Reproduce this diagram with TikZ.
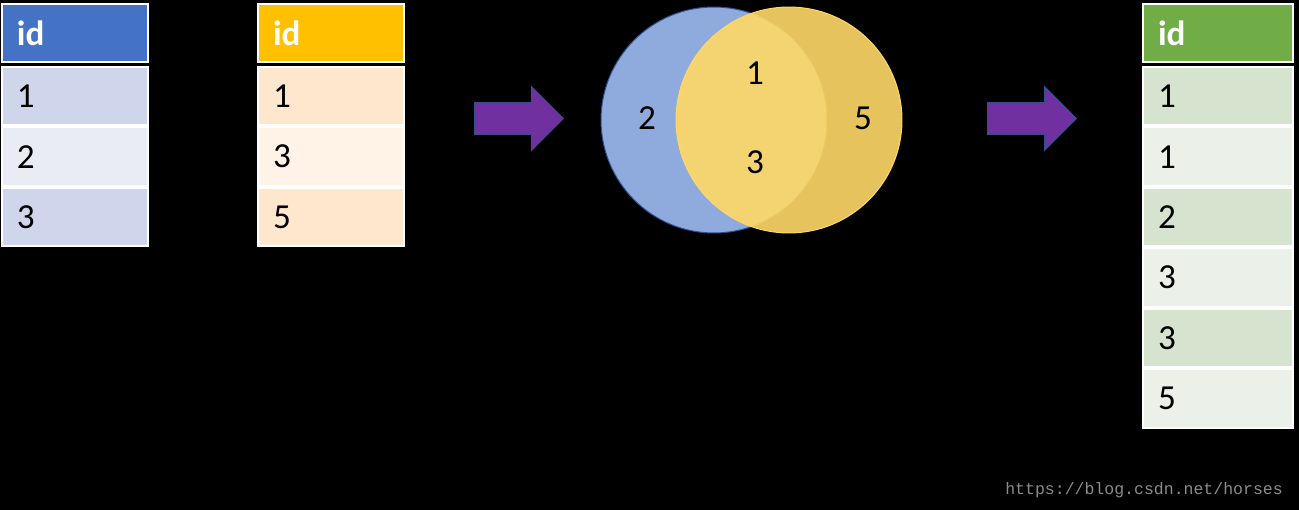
\documentclass[tikz,border=0pt]{standalone}
\usepackage{fontspec}
\setmainfont{Carlito}
\newfontfamily\urlfont{Liberation Mono}
\usepackage{xcolor}
\usepackage{tikz}
\usetikzlibrary{positioning, shapes.arrows}
\definecolor{hdblue}{HTML}{4472C4}
\definecolor{rowblueA}{HTML}{CFD5EA}
\definecolor{rowblueB}{HTML}{E9EBF5}
\definecolor{hdyellow}{HTML}{FFC000}
\definecolor{rowyellowA}{HTML}{FFE7CD}
\definecolor{rowyellowB}{HTML}{FFF3E7}
\definecolor{hdgreen}{HTML}{70AD47}
\definecolor{rowgreenA}{HTML}{D5E3CF}
\definecolor{rowgreenB}{HTML}{EBF1E9}
\definecolor{vennblue}{HTML}{8FAADC}
\definecolor{vennyellow}{HTML}{FFD966}
\definecolor{edgeblue}{HTML}{2F528F}
\definecolor{arrowpurple}{HTML}{7030A0}
\definecolor{urlgray}{HTML}{8C8C8C}
\tikzset{
    cell/.style={rectangle, draw=white, line width=0.04cm, minimum width=2.92cm, minimum height=1.17cm, text width=2.32cm, inner xsep=0.3cm, inner ysep=0pt, align=left, font=\fontsize{20}{24}\selectfont},
    head/.style={cell, minimum height=1.16cm, text=white, font=\fontsize{20}{24}\selectfont\bfseries},
    widecell/.style={minimum width=3.0cm, text width=2.4cm},
    setcircle/.style={circle, minimum size=4.52cm, inner sep=0pt, line width=0.02cm},
    setlabel/.style={font=\fontsize{20}{24}\selectfont},
    bigarrow/.style={single arrow, fill=arrowpurple, draw=edgeblue, line width=0.02cm, minimum height=1.78cm, minimum width=1.26cm, single arrow head extend=0.32cm, inner xsep=0pt, inner ysep=0.31cm},
}
\begin{document}
\begin{tikzpicture}[x=0.02cm, y=-0.02cm, node distance=0cm]
    \fill[black] (0,0) rectangle (1299,510);
    \useasboundingbox (0,0) rectangle (1299,510);
    % left table
    \node[head, fill=hdblue, anchor=north west] (a0) at (1,3) {id};
    \node[cell, fill=rowblueA, below=0.06cm of a0] (a1) {1};
    \node[cell, fill=rowblueB, below=of a1] (a2) {2};
    \node[cell, fill=rowblueA, below=of a2] (a3) {3};
    % right table
    \node[head, fill=hdyellow, anchor=north west] (b0) at (257,3) {id};
    \node[cell, fill=rowyellowA, below=0.06cm of b0] (b1) {1};
    \node[cell, fill=rowyellowB, below=of b1] (b2) {3};
    \node[cell, fill=rowyellowA, below=of b2] (b3) {5};
    \node[bigarrow] (toVenn) at (511,118.5) {};
    % venn diagram
    \node[setcircle, fill=vennblue, draw=edgeblue] (setA) at (714,120) {};
    \node[setcircle, fill=vennyellow, fill opacity=0.9, draw=vennyellow] (setB) at (789,120) {};
    \node[setlabel] (onlyA) at (647,118) {2};
    \node[setlabel] (bothTop) at (755,73) {1};
    \node[setlabel] (bothBot) at (755,162) {3};
    \node[setlabel] (onlyB) at (863,118) {5};
    \node[bigarrow] (toResult) at (1024,118.5) {};
    % result table
    \node[head, widecell, fill=hdgreen, anchor=north west] (c0) at (1142,3) {id};
    \node[cell, widecell, fill=rowgreenA, below=0.06cm of c0] (c1) {1};
    \node[cell, widecell, fill=rowgreenB, below=of c1] (c2) {1};
    \node[cell, widecell, fill=rowgreenA, below=of c2] (c3) {2};
    \node[cell, widecell, fill=rowgreenB, below=of c3] (c4) {3};
    \node[cell, widecell, fill=rowgreenA, below=of c4] (c5) {3};
    \node[cell, widecell, fill=rowgreenB, below=of c5] (c6) {5};
    \node[font=\urlfont\fontsize{9.4}{11}\selectfont, text=urlgray, anchor=east] (url) at (1289,490) {https://blog.csdn.net/horses};
\end{tikzpicture}
\end{document}
